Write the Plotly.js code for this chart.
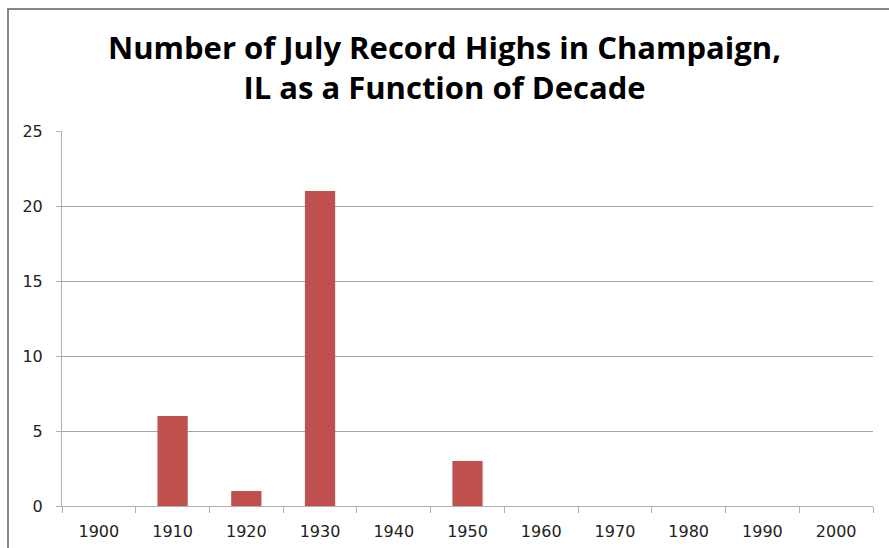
<!DOCTYPE html>
<html><head><meta charset="utf-8">
<script src="https://cdn.plot.ly/plotly-3.0.1.min.js"></script>
<style>html,body{margin:0;padding:0;background:#fff}#c{width:889px;height:548px}</style>
</head><body><div id="c"></div>
<script>
const decades = ['1900','1910','1920','1930','1940','1950','1960','1970','1980','1990','2000'];
const recordHighs = [0,6,1,21,0,3,0,0,0,0,0];
const yTicks = [0,5,10,15,20,25];

const L=62,R=873,T=131,B=506,W=889,H=548;
const px=x=>(x-L)/(R-L), py=y=>(B-y)/(B-T);

Plotly.newPlot('c',[{
  type:'bar', x:decades, y:recordHighs, width:0.41,
  marker:{color:'#c0504d'}, hoverinfo:'x+y'
}],{
  width:W,height:H,
  margin:{l:L,r:W-R,t:T,b:H-B,pad:0},
  paper_bgcolor:'#fff',plot_bgcolor:'#fff',
  showlegend:false,
  title:{text:'Number of July Record Highs in Champaign,<br>IL as a Function of Decade',
    font:{family:'Open Sans, sans-serif',size:31,color:'#000',weight:'bold'},
    x:0.5,xanchor:'center',y:1-59/H,yanchor:'middle'},
  xaxis:{type:'category',showline:true,linecolor:'#b0b0b0',linewidth:1,
    ticks:'outside',tickson:'boundaries',ticklen:6,tickcolor:'#b0b0b0',
    ticklabelstandoff:11,
    showgrid:false,tickfont:{family:'DejaVu Sans, sans-serif',size:16,color:'#222'},
    fixedrange:true},
  yaxis:{range:[0,25],tickvals:yTicks,showline:true,linecolor:'#b0b0b0',linewidth:1,
    ticks:'outside',ticklen:5,tickcolor:'#b0b0b0',ticklabelstandoff:10,
    showgrid:true,gridcolor:'#a6a6a6',gridwidth:1,zeroline:false,
    tickfont:{family:'DejaVu Sans, sans-serif',size:16,color:'#222'},fixedrange:true},
  shapes:[{type:'rect',xref:'paper',yref:'paper',x0:px(8),x1:px(900),y0:py(560),y1:py(9),
    line:{color:'#868686',width:2},fillcolor:'rgba(0,0,0,0)',layer:'below'}]
},{displayModeBar:false,staticPlot:true});
</script></body></html>
